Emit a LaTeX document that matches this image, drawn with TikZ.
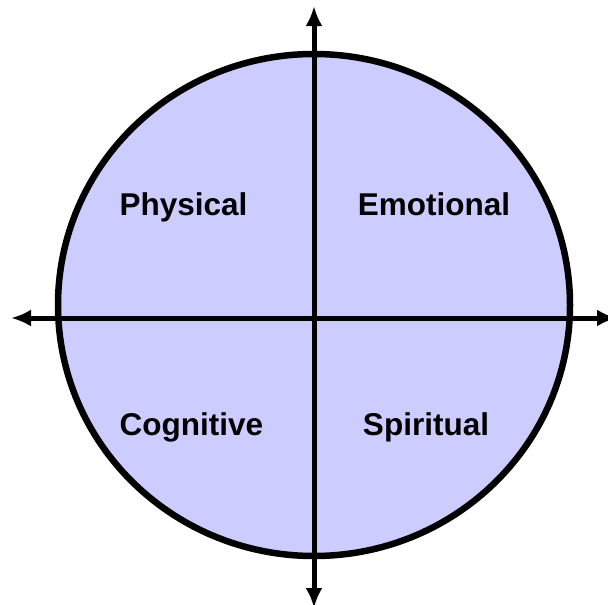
\documentclass[tikz,border=0pt]{standalone}
\usepackage{fontspec}
\setmainfont{Liberation Sans}
\usetikzlibrary{arrows.meta}
\definecolor{disk}{HTML}{CCCCFF}
\tikzset{
  >={Latex[length=20pt,width=17pt]},
  every node/.style={font=\fontsize{31.5}{36}\selectfont\bfseries},
  wheel/.style={draw=black,line width=6.5pt,fill=disk},
  axis/.style={<->,line width=5pt,draw=black},
  quad/.style={anchor=base,inner sep=0pt},
}
\begin{document}
\begin{tikzpicture}[x=1pt,y=-1pt]
  \useasboundingbox (0,0) rectangle (608,605);
  \clip (0,0) rectangle (608,605);
  \draw[wheel] (314,305) ellipse [x radius=256, y radius=251];
  \coordinate (top) at (314,6);
  \coordinate (bottom) at (314,608);
  \coordinate (left) at (11,318);
  \coordinate (right) at (617,318);
  \draw[axis] (bottom) -- (top);
  \draw[axis] (left) -- (right);
  \node[quad] (physical) at (183.5,215) {Physical};
  \node[quad] (emotional) at (434,215) {Emotional};
  \node[quad] (cognitive) at (191.5,435) {Cognitive};
  \node[quad] (spiritual) at (426,435) {Spiritual};
\end{tikzpicture}
\end{document}
